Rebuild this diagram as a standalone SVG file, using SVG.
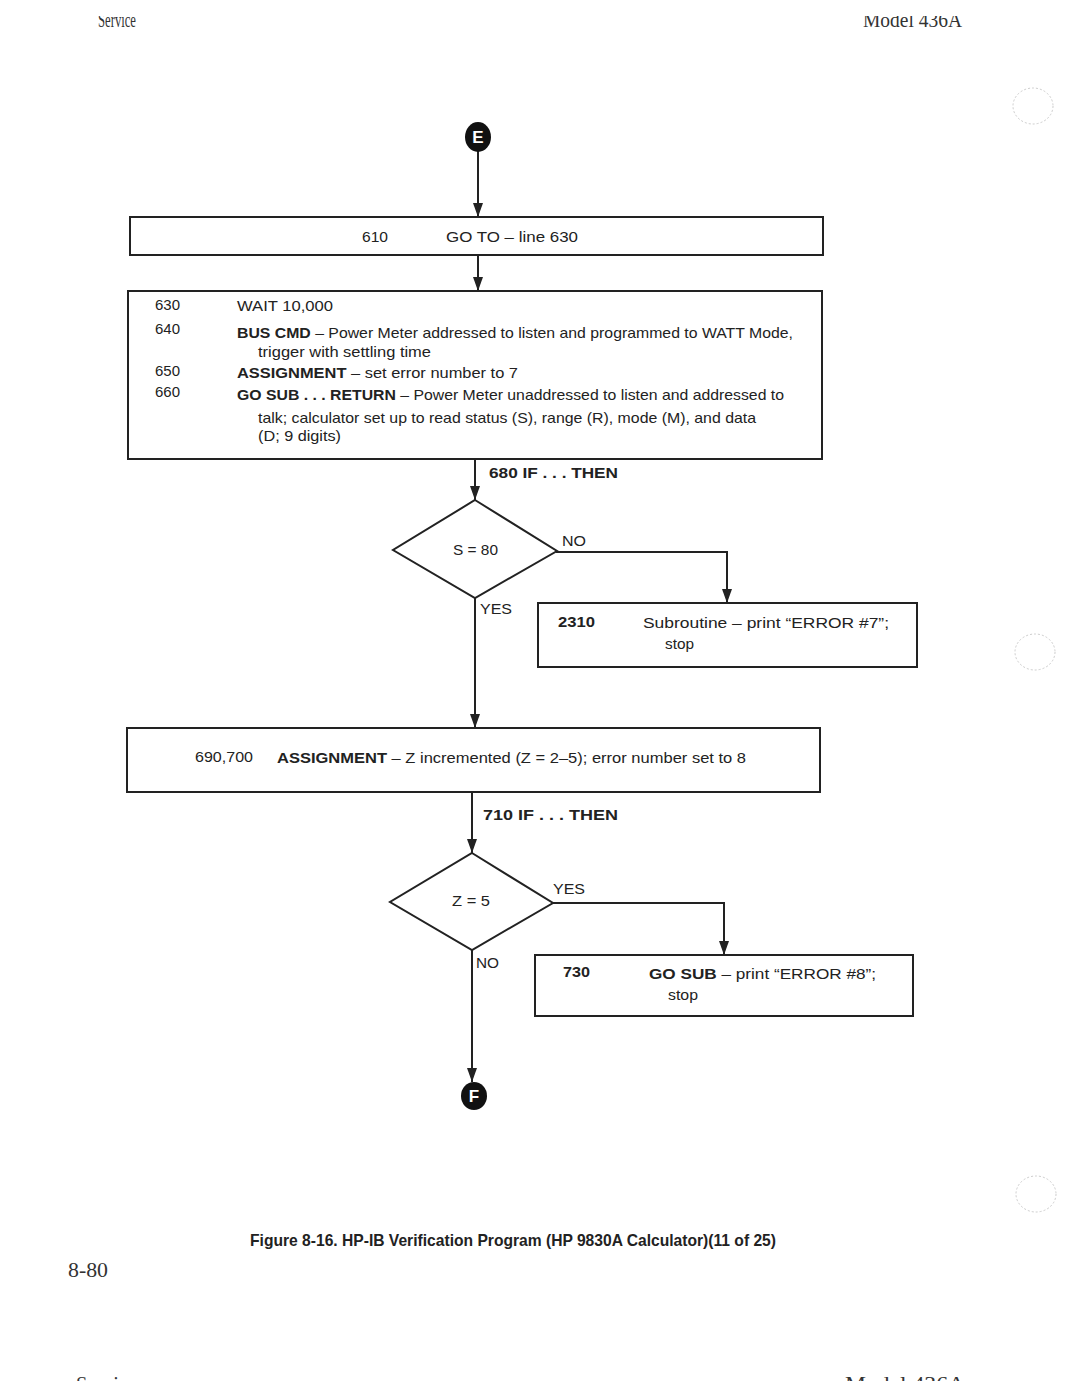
<svg xmlns="http://www.w3.org/2000/svg" width="1080" height="1399" viewBox="0 0 1080 1399">
<style>
.t{font-family:"Liberation Sans",Arial,sans-serif;font-size:15px;fill:#222}
.b{font-weight:bold}
.box{fill:none;stroke:#222;stroke-width:2}
.ln{fill:none;stroke:#222;stroke-width:2}
.hd{font-family:"Liberation Serif","Times New Roman",serif;font-size:20px;fill:#333}
.cap{font-family:"Liberation Sans",Arial,sans-serif;font-size:17px;font-weight:bold;fill:#222}
.hole{fill:none;stroke:#ccc;stroke-width:1;stroke-dasharray:2 2}
.conn{fill:#111}
.cl{font-family:"Liberation Sans",Arial,sans-serif;font-size:17px;font-weight:bold;fill:#fff}
</style>
<defs>
<marker id="ah" viewBox="0 0 14 10" refX="14" refY="5" markerWidth="14" markerHeight="10" markerUnits="userSpaceOnUse" orient="auto">
<path d="M0,0 L14,5 L0,10 Z" fill="#222"/>
</marker>
<clipPath id="topclip"><rect x="0" y="16" width="1080" height="20"/></clipPath>
<clipPath id="botclip"><rect x="0" y="1360" width="1080" height="21"/></clipPath>
</defs>
<rect width="1080" height="1399" fill="#fff"/>

<g id="header" clip-path="url(#topclip)">
<text class="hd" x="98" y="27" textLength="38" lengthAdjust="spacingAndGlyphs">Service</text>
<text class="hd" x="863" y="27" textLength="99" lengthAdjust="spacingAndGlyphs">Model 436A</text>
</g>
<g id="footer" clip-path="url(#botclip)">
<text class="hd" x="76" y="1391" textLength="61" lengthAdjust="spacingAndGlyphs">Service</text>
<text class="hd" x="845" y="1391" textLength="120" lengthAdjust="spacingAndGlyphs">Model 436A</text>
</g>

<g id="holes">
<ellipse class="hole" cx="1033" cy="106" rx="20" ry="18"/>
<ellipse class="hole" cx="1035" cy="652" rx="20" ry="18"/>
<ellipse class="hole" cx="1036" cy="1194" rx="20" ry="18"/>
</g>

<g id="connectors">
<line class="ln" x1="478" y1="151" x2="478" y2="217" marker-end="url(#ah)"/>
<line class="ln" x1="478" y1="255" x2="478" y2="291" marker-end="url(#ah)"/>
<line class="ln" x1="475" y1="459" x2="475" y2="500" marker-end="url(#ah)"/>
<polyline class="ln" points="556,552 727,552 727,603" marker-end="url(#ah)"/>
<line class="ln" x1="475" y1="598" x2="475" y2="728" marker-end="url(#ah)"/>
<line class="ln" x1="472" y1="792" x2="472" y2="853" marker-end="url(#ah)"/>
<polyline class="ln" points="553,903 724,903 724,955" marker-end="url(#ah)"/>
<line class="ln" x1="472" y1="950" x2="472" y2="1082" marker-end="url(#ah)"/>
<text class="t b" x="489" y="478" textLength="129" lengthAdjust="spacingAndGlyphs">680 IF . . . THEN</text>
<text class="t" x="562" y="546" textLength="24" lengthAdjust="spacingAndGlyphs">NO</text>
<text class="t" x="480" y="614" textLength="32" lengthAdjust="spacingAndGlyphs">YES</text>
<text class="t b" x="483" y="820" textLength="135" lengthAdjust="spacingAndGlyphs">710 IF . . . THEN</text>
<text class="t" x="553" y="894" textLength="32" lengthAdjust="spacingAndGlyphs">YES</text>
<text class="t" x="476" y="968" textLength="23" lengthAdjust="spacingAndGlyphs">NO</text>
</g>

<g id="nodeE">
<ellipse class="conn" cx="478" cy="137" rx="13" ry="15"/>
<text class="cl" x="478" y="143" text-anchor="middle">E</text>
</g>

<g id="node610">
<rect class="box" x="130" y="217" width="693" height="38"/>
<text class="t" x="362" y="242" textLength="26" lengthAdjust="spacingAndGlyphs">610</text>
<text class="t" x="446" y="242" textLength="132" lengthAdjust="spacingAndGlyphs">GO TO –  line 630</text>
</g>

<g id="node630">
<rect class="box" x="128" y="291" width="694" height="168"/>
<text class="t" x="155" y="310">630</text>
<text class="t" x="155" y="334">640</text>
<text class="t" x="155" y="376">650</text>
<text class="t" x="155" y="397">660</text>
<text class="t" x="237" y="311" textLength="96" lengthAdjust="spacingAndGlyphs">WAIT 10,000</text>
<text class="t" x="237" y="338" textLength="556" lengthAdjust="spacingAndGlyphs"><tspan class="b">BUS CMD</tspan> – Power Meter addressed to listen and programmed to WATT Mode,</text>
<text class="t" x="258" y="357" textLength="173" lengthAdjust="spacingAndGlyphs">trigger with settling time</text>
<text class="t" x="237" y="378" textLength="281" lengthAdjust="spacingAndGlyphs"><tspan class="b">ASSIGNMENT</tspan> –  set error number to 7</text>
<text class="t" x="237" y="400" textLength="547" lengthAdjust="spacingAndGlyphs"><tspan class="b">GO SUB . . . RETURN</tspan> –  Power Meter unaddressed to listen and addressed to</text>
<text class="t" x="258" y="423" textLength="498" lengthAdjust="spacingAndGlyphs">talk; calculator set up to read status (S), range (R), mode (M), and data</text>
<text class="t" x="258" y="441" textLength="83" lengthAdjust="spacingAndGlyphs">(D; 9 digits)</text>
</g>

<g id="node680">
<polygon class="box" points="475,500 557,551 475,598 393,550"/>
<text class="t" x="453" y="555" textLength="45" lengthAdjust="spacingAndGlyphs">S = 80</text>
</g>

<g id="node2310">
<rect class="box" x="538" y="603" width="379" height="64"/>
<text class="t b" x="558" y="627" textLength="37" lengthAdjust="spacingAndGlyphs">2310</text>
<text class="t" x="643" y="628" textLength="246" lengthAdjust="spacingAndGlyphs">Subroutine – print “ERROR #7”;</text>
<text class="t" x="665" y="649" textLength="29" lengthAdjust="spacingAndGlyphs">stop</text>
</g>

<g id="node690">
<rect class="box" x="127" y="728" width="693" height="64"/>
<text class="t" x="195" y="762" textLength="58" lengthAdjust="spacingAndGlyphs">690,700</text>
<text class="t" x="277" y="763" textLength="469" lengthAdjust="spacingAndGlyphs"><tspan class="b">ASSIGNMENT</tspan> –  Z incremented (Z = 2–5); error number set to 8</text>
</g>

<g id="node710">
<polygon class="box" points="472,853 553,903 472,950 390,902"/>
<text class="t" x="452" y="906" textLength="38" lengthAdjust="spacingAndGlyphs">Z = 5</text>
</g>

<g id="node730">
<rect class="box" x="535" y="955" width="378" height="61"/>
<text class="t b" x="563" y="977" textLength="27" lengthAdjust="spacingAndGlyphs">730</text>
<text class="t" x="649" y="979" textLength="227" lengthAdjust="spacingAndGlyphs"><tspan class="b">GO SUB</tspan> –  print “ERROR #8”;</text>
<text class="t" x="668" y="1000" textLength="30" lengthAdjust="spacingAndGlyphs">stop</text>
</g>

<g id="nodeF">
<ellipse class="conn" cx="474" cy="1096" rx="13" ry="14"/>
<text class="cl" x="474" y="1102" text-anchor="middle">F</text>
</g>

<text class="cap" x="250" y="1246" textLength="526" lengthAdjust="spacingAndGlyphs">Figure 8-16.  HP-IB Verification Program (HP 9830A Calculator)(11 of 25)</text>
<text class="hd" x="68" y="1277" textLength="40" lengthAdjust="spacingAndGlyphs">8-80</text>
</svg>
